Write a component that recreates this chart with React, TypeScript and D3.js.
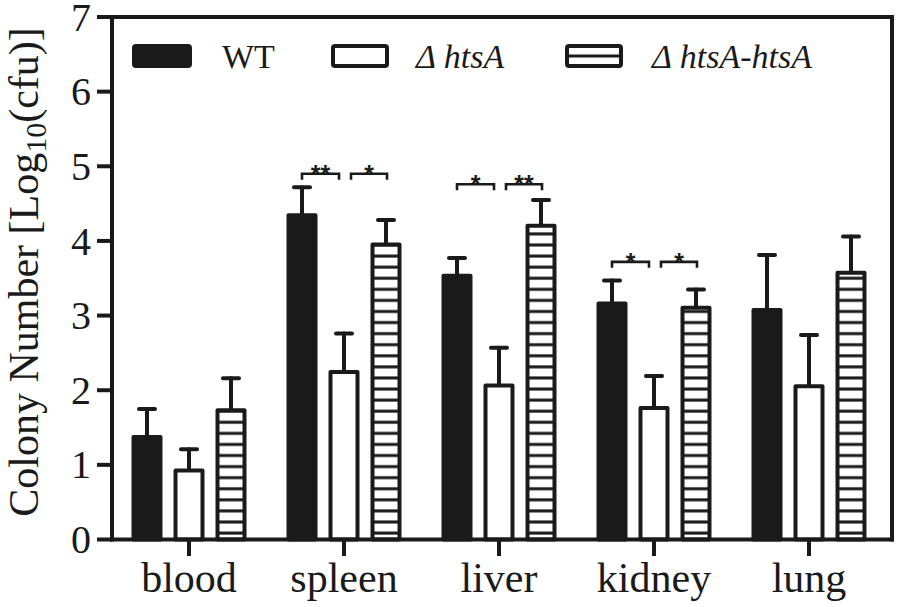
import React from "react";
import * as d3 from "d3";

const categories = ["blood", "spleen", "liver", "kidney", "lung"];
const seriesNames = ["WT", "Δ htsA", "Δ htsA-htsA"];
const wtMean = [1.4, 4.37, 3.56, 3.19, 3.1];
const wtSD = [0.35, 0.35, 0.21, 0.28, 0.71];
const mutMean = [0.95, 2.27, 2.09, 1.79, 2.08];
const mutSD = [0.26, 0.49, 0.48, 0.4, 0.66];
const compMean = [1.76, 3.98, 4.23, 3.13, 3.6];
const compSD = [0.4, 0.3, 0.32, 0.22, 0.46];
const yTicks = [0, 1, 2, 3, 4, 5, 6, 7];
// significance comparisons: category, from-series index, to-series index, level, label
const sigCategory = ["spleen", "spleen", "liver", "liver", "kidney", "kidney"];
const sigFrom = [0, 1, 0, 1, 0, 1];
const sigTo = [1, 2, 1, 2, 1, 2];
const sigLevel = [4.9, 4.9, 4.76, 4.76, 3.72, 3.72];
const sigLabel = ["**", "*", "*", "**", "*", "*"];

const W = 899;
const H = 607;
const FONT = "Liberation Serif, Times New Roman, Times, serif";
const SANS = "Liberation Sans, Arial, sans-serif";
const ink = "#1a1a1a";

export default function App() {
  const left = 112;
  const right = 892;
  const top = 17;
  const bottom = 539.5;
  const y = d3.scaleLinear().domain([0, 7]).range([bottom, top]);
  const x0 = d3.scalePoint<string>().domain(categories).range([189, 809]);
  const x1 = d3.scalePoint<number>().domain([0, 1, 2]).range([-42, 42]);
  const barW = 27;
  const means = [wtMean, mutMean, compMean];
  const sds = [wtSD, mutSD, compSD];
  const period = 11.08;
  const sw = 4;
  const txt = { fontFamily: FONT, fill: ink } as React.CSSProperties;

  const bars: React.ReactNode[] = [];
  const errs: React.ReactNode[] = [];
  categories.forEach((c, i) => {
    [0, 1, 2].forEach((s) => {
      const cx = (x0(c) as number) + (x1(s) as number);
      const m = means[s][i];
      const e = m + sds[s][i];
      const fill = s === 0 ? ink : s === 1 ? "#fff" : "url(#hatch)";
      errs.push(
        <g key={`e${c}${s}`} stroke={ink} strokeWidth={sw} strokeLinecap="round">
          <line x1={cx} x2={cx} y1={y(m)} y2={y(e)} />
          <line x1={cx - 8} x2={cx + 8} y1={y(e)} y2={y(e)} />
        </g>
      );
      bars.push(
        <rect
          key={`b${c}${s}`}
          x={cx - barW / 2}
          y={y(m) + sw / 2}
          width={barW}
          height={bottom - y(m) - sw / 2}
          fill={fill}
          stroke={ink}
          strokeWidth={sw}
          strokeLinejoin="round"
        />
      );
    });
  });

  const sigs = sigCategory.map((c, k) => {
    const a = (x0(c) as number) + (x1(sigFrom[k]) as number);
    const b = (x0(c) as number) + (x1(sigTo[k]) as number);
    const xa = sigFrom[k] === 0 ? a : a + 7;
    const xb = sigTo[k] === 1 ? b - 5 : b + 1;
    const yy = y(sigLevel[k]);
    return (
      <g key={`s${k}`}>
        <path d={`M${xa},${yy + 6}V${yy}H${xb}V${yy + 6}`} fill="none" stroke={ink} strokeWidth={2.6} />
        <text
          x={(xa + xb) / 2}
          y={yy + 9}
          textAnchor="middle"
          fontSize={25}
          fontWeight="bold"
          style={{ fontFamily: SANS, fill: ink }}
        >
          {sigLabel[k]}
        </text>
      </g>
    );
  });

  return (
    <div style={{ position: "absolute", left: 0, top: 0 }}>
      <svg width={W} height={H} viewBox={`0 0 ${W} ${H}`} style={{ display: "block", background: "#fff" }}>
        <defs>
          <pattern id="hatch" patternUnits="userSpaceOnUse" width={10} height={period} y={522 - period / 2}>
            <rect width={10} height={period} fill="#fff" />
            <rect y={period / 2 - 1.5} width={10} height={3} fill={ink} />
          </pattern>
        </defs>

        {errs}
        {bars}

        <g stroke={ink} strokeWidth={sw} fill="none" strokeLinecap="square">
          <line x1={left} x2={right} y1={top} y2={top} />
          <line x1={right} x2={right} y1={top} y2={bottom} />
          <line x1={left} x2={left} y1={top} y2={bottom} />
          <line x1={left} x2={right} y1={bottom} y2={bottom} />
        </g>
        {yTicks.map((t) => (
          <g key={`yt${t}`}>
            <line x1={97} x2={left} y1={y(t)} y2={y(t)} stroke={ink} strokeWidth={sw} />
            <text x={91} y={y(t)} dy="0.34em" textAnchor="end" fontSize={40} style={txt}>
              {t}
            </text>
          </g>
        ))}
        {categories.map((c) => (
          <g key={`xt${c}`}>
            <line x1={x0(c) as number} x2={x0(c) as number} y1={bottom} y2={556} stroke={ink} strokeWidth={sw} />
            <text x={x0(c) as number} y={592} textAnchor="middle" fontSize={42} style={txt}>
              {c}
            </text>
          </g>
        ))}

        {sigs}

        <g>
          <rect x={134} y={46} width={56} height={20} rx={2} fill={ink} stroke={ink} strokeWidth={sw} strokeLinejoin="round" />
          <text x={222} y={68} fontSize={34} style={txt}>
            {seriesNames[0]}
          </text>
          <rect x={333} y={46} width={54} height={20} rx={2} fill="#fff" stroke={ink} strokeWidth={sw} strokeLinejoin="round" />
          <text x={416} y={68} fontSize={34} fontStyle="italic" style={txt}>
            {seriesNames[1]}
          </text>
          <rect x={567} y={46} width={54} height={20} rx={2} fill="#fff" stroke={ink} strokeWidth={sw} strokeLinejoin="round" />
          <line x1={567} x2={621} y1={56} y2={56} stroke={ink} strokeWidth={3} />
          <text x={652} y={68} fontSize={34} fontStyle="italic" style={txt}>
            {seriesNames[2]}
          </text>
        </g>

        <text transform={`translate(38,272) rotate(-90)`} textAnchor="middle" fontSize={42} style={txt}>
          Colony Number [Log
          <tspan fontSize={30} dy={8}>10</tspan>
          <tspan dy={-8}>(cfu)]</tspan>
        </text>
      </svg>
    </div>
  );
}
